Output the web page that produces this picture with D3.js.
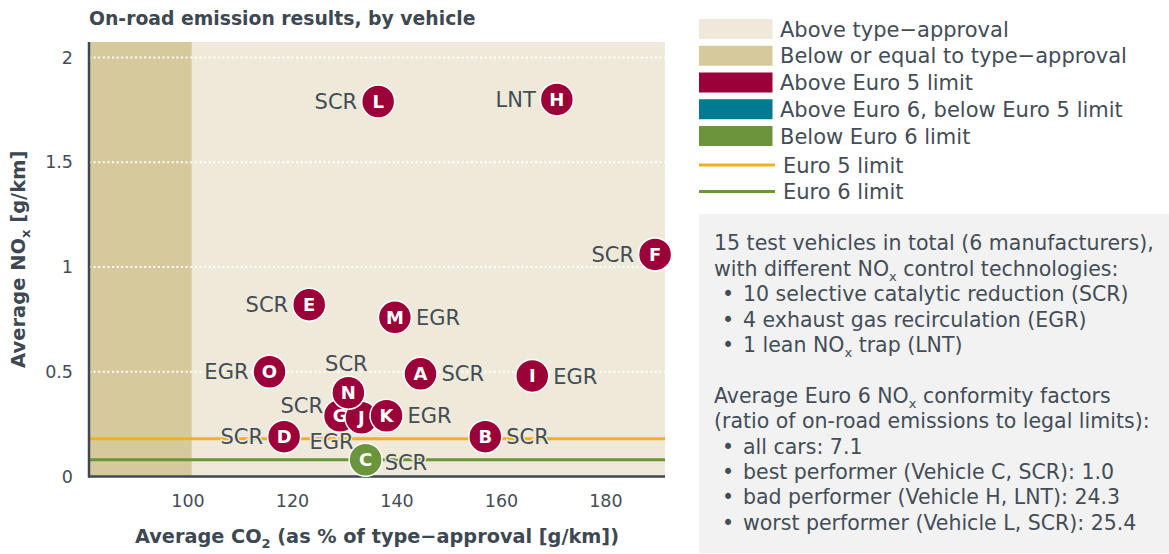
<!DOCTYPE html>
<html><head><meta charset="utf-8">
<script src="https://cdn.jsdelivr.net/npm/d3@7"></script>
<style>
html,body{margin:0;padding:0;background:#fff;}
svg{display:block;font-family:"DejaVu Sans",sans-serif;}
</style></head>
<body><svg id="chart" width="1169" height="554"></svg>
<script>
// ---- data ----
const vehicles   = ["L","H","F","E","M","O","A","I","G","J","K","N","D","B","C"];
const co2Pct     = [136.5,170.7,189.5,123.3,139.7,115.7,144.6,166.0,129.2,133.3,138.1,130.8,118.5,157.0,134.1];
const noxGkm     = [1.79,1.80,1.06,0.82,0.76,0.50,0.49,0.48,0.29,0.28,0.29,0.40,0.19,0.19,0.08];
const technology = ["SCR","LNT","SCR","SCR","EGR","EGR","SCR","EGR","SCR","EGR","EGR","SCR","SCR","SCR","SCR"];
const status     = ["above5","above5","above5","above5","above5","above5","above5","above5","above5","above5","above5","above5","above5","above5","below6"];
const xTicks = [100,120,140,160,180];
const yTicks = [0,0.5,1,1.5,2];
const yTickLabels = ["0","0.5","1","1.5","2"];
const typeApproval = 100;
const euro5Limit = 0.18;
const euro6Limit = 0.08;
const legendItems = ["Above type\u2212approval","Below or equal to type\u2212approval","Above Euro 5 limit","Above Euro 6, below Euro 5 limit","Below Euro 6 limit"];
const legendLines = ["Euro 5 limit","Euro 6 limit"];
const noteLines = [
  [0,"15 test vehicles in total (6 manufacturers),"],
  [0,"with different NO_x control technologies:"],
  [1,"10 selective catalytic reduction (SCR)"],
  [1,"4 exhaust gas recirculation (EGR)"],
  [1,"1 lean NO_x trap (LNT)"],
  [0,""],
  [0,"Average Euro 6 NO_x conformity factors"],
  [0,"(ratio of on-road emissions to legal limits):"],
  [1,"all cars: 7.1"],
  [1,"best performer (Vehicle C, SCR): 1.0"],
  [1,"bad performer (Vehicle H, LNT): 24.3"],
  [1,"worst performer (Vehicle L, SCR): 25.4"]
];

// ---- layout / style ----
const C = {text:"#434d57", axis:"#3d4852", bgLight:"#eee9d8", bgDark:"#d6c99c",
  red:"#9b0039", teal:"#007a8e", green:"#6a953a", orange:"#f0b020", box:"#f2f2f2"};
const statusColor = {above5:C.red, above6:C.teal, below6:C.green};
const legendColors = [C.bgLight, C.bgDark, C.red, C.teal, C.green];
const legendLineColors = [C.orange, C.green];
// label placement per vehicle: [dx, dy, anchor]
const labelPlace = {
  L:[-21,0,"end"], H:[-21,0,"end"], F:[-21,0,"end"], E:[-21,0,"end"],
  M:[21,0,"start"], O:[-21,0,"end"], A:[21,0,"start"], I:[21,0,"start"],
  G:[-17,-10,"end"], J:[-30,24,"middle"], K:[21,0,"start"], N:[-2,-29,"middle"],
  D:[-21,0,"end"], B:[21,0,"start"], C:[19,3,"start"]
};
const M = {left:89, right:665, top:42, bottom:476.5};
const R = 16.5;
const FS = {title:18.8, xTitle:19.3, yTitle:19.5, tick:17.5, label:21, letter:18, legend:21, note:20.5, sub:13};

const svg = d3.select("#chart");
const x = d3.scaleLinear().domain([81.15,191.4]).range([M.left,M.right]);
const y = d3.scaleLinear().domain([0,2.074]).range([M.bottom,M.top]);

// title
svg.append("text").attr("x",M.left).attr("y",25).attr("fill",C.axis)
  .attr("font-size",FS.title).attr("font-weight",700).text("On-road emission results, by vehicle");

// backgrounds
svg.append("rect").attr("x",M.left).attr("y",M.top).attr("width",M.right-M.left).attr("height",M.bottom-M.top).attr("fill",C.bgLight);
svg.append("rect").attr("x",M.left).attr("y",M.top).attr("width",x(typeApproval+0.8)-M.left).attr("height",M.bottom-M.top).attr("fill",C.bgDark);

// gridlines
svg.append("g").selectAll("line").data(yTicks.filter(d=>d>0)).join("line")
  .attr("x1",M.left).attr("x2",M.right).attr("y1",d=>y(d)).attr("y2",d=>y(d))
  .attr("stroke","#fff").attr("stroke-width",2).attr("stroke-dasharray","2,2.6");

// limit lines
[[euro5Limit,C.orange],[euro6Limit,C.green]].forEach(([v,c])=>{
  svg.append("line").attr("x1",M.left).attr("x2",M.right).attr("y1",y(v)).attr("y2",y(v))
    .attr("stroke",c).attr("stroke-width",3);
});

// axes
const yAxis = d3.axisLeft(y).tickValues(yTicks).tickFormat((d,i)=>yTickLabels[i]).tickSize(0).tickPadding(16);
const gy = svg.append("g").attr("transform",`translate(${M.left},0)`).call(yAxis);
const xAxis = d3.axisBottom(x).tickValues(xTicks).tickSize(0).tickPadding(18);
const gx = svg.append("g").attr("transform",`translate(0,${M.bottom})`).call(xAxis);
[gx,gy].forEach(g=>{
  g.select(".domain").remove();
  g.selectAll("text").attr("font-family","'DejaVu Sans',sans-serif").attr("font-size",FS.tick).attr("fill",C.text);
});
svg.append("line").attr("x1",M.left).attr("x2",M.left).attr("y1",M.top).attr("y2",M.bottom+1)
  .attr("stroke",C.axis).attr("stroke-width",2.5);
svg.append("line").attr("x1",M.left-1).attr("x2",M.right).attr("y1",M.bottom).attr("y2",M.bottom)
  .attr("stroke",C.axis).attr("stroke-width",2.5);

// axis titles
const xt = svg.append("text").attr("x",(M.left+M.right)/2).attr("y",543).attr("text-anchor","middle")
  .attr("fill",C.axis).attr("font-size",FS.xTitle).attr("font-weight",700);
xt.append("tspan").text("Average CO");
xt.append("tspan").attr("font-size",FS.sub).attr("dy",5).text("2");
xt.append("tspan").attr("dy",-5).text(" (as % of type\u2212approval [g/km])");

const yt = svg.append("text").attr("transform",`translate(25,${(M.top+M.bottom)/2}) rotate(-90)`)
  .attr("text-anchor","middle").attr("fill",C.axis).attr("font-size",FS.yTitle).attr("font-weight",700);
yt.append("tspan").text("Average NO");
yt.append("tspan").attr("font-size",FS.sub).attr("dy",5).text("x");
yt.append("tspan").attr("dy",-5).text(" [g/km]");

// points
const pts = vehicles.map((v,i)=>({id:v, x:co2Pct[i], y:noxGkm[i], tech:technology[i], st:status[i]}));
const lab = svg.append("g");
pts.forEach(p=>{
  const [dx,dy,anc] = labelPlace[p.id];
  lab.append("text").attr("x",x(p.x)+dx).attr("y",y(p.y)+dy).attr("dy","0.36em")
    .attr("text-anchor",anc).attr("font-size",FS.label).attr("fill",C.text)
    .attr("stroke",C.bgLight).attr("stroke-width",3).attr("paint-order","stroke")
    .text(p.tech);
});
const drawOrder = ["L","H","F","E","M","O","A","I","D","B","C","G","J","K","N"];
const pg = svg.append("g");
drawOrder.map(id=>pts.find(p=>p.id===id)).forEach(p=>{
  const g = pg.append("g").attr("transform",`translate(${x(p.x)},${y(p.y)})`);
  g.append("circle").attr("r",R).attr("fill",statusColor[p.st]).attr("stroke","#fff").attr("stroke-width",1.5);
  g.append("text").attr("text-anchor","middle").attr("dy","0.36em").attr("font-size",FS.letter)
    .attr("font-weight",700).attr("fill","#fff").text(p.id);
});

// legend
const lg = svg.append("g");
legendItems.forEach((t,i)=>{
  const cy = 29 + i*26.75;
  lg.append("rect").attr("x",699).attr("y",cy-10).attr("width",73.5).attr("height",20).attr("fill",legendColors[i]);
  lg.append("text").attr("x",780).attr("y",cy).attr("dy","0.36em").attr("font-size",FS.legend).attr("fill",C.text).text(t);
});
legendLines.forEach((t,i)=>{
  const cy = 165 + i*26.5;
  lg.append("line").attr("x1",699).attr("x2",775).attr("y1",cy).attr("y2",cy).attr("stroke",legendLineColors[i]).attr("stroke-width",3);
  lg.append("text").attr("x",783).attr("y",cy).attr("dy","0.36em").attr("font-size",FS.legend).attr("fill",C.text).text(t);
});

// note box
svg.append("rect").attr("x",699).attr("y",214).attr("width",470).attr("height",339).attr("fill",C.box);
noteLines.forEach(([ind,s],i)=>{
  const by = 243 + i*25.4;
  if(ind){
    svg.append("text").attr("x",728).attr("y",by).attr("dy","0.36em").attr("font-size",FS.note).attr("fill",C.text).attr("text-anchor","middle").text("\u2022");
  }
  const t = svg.append("text").attr("x",ind?743:714).attr("y",by).attr("dy","0.36em").attr("font-size",FS.note).attr("fill",C.text);
  const parts = s.split("_x");
  parts.forEach((pt,j)=>{
    if(j>0){ t.append("tspan").attr("font-size",FS.sub).attr("dy",5).text("x"); t.append("tspan").attr("dy",-5).text(pt); }
    else t.append("tspan").text(pt);
  });
});
</script></body></html>
